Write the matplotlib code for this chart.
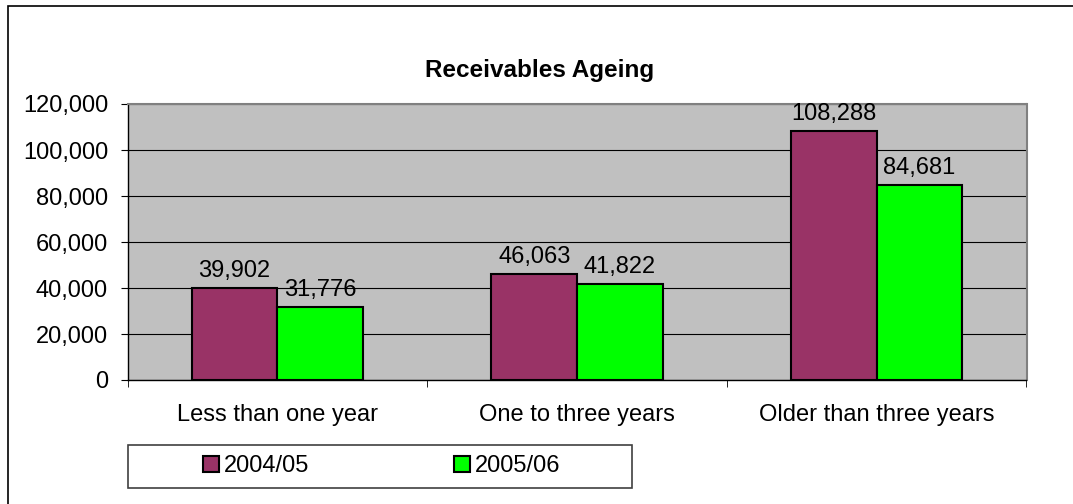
import matplotlib.pyplot as plt
import numpy as np
from matplotlib.patches import Rectangle

categories = ['Less than one year', 'One to three years', 'Older than three years']
series_names = ['2004/05', '2005/06']
values_0405 = [39902, 46063, 108288]
values_0506 = [31776, 41822, 84681]
colors = ['#993366', '#00FF00']

plt.rcParams['font.family'] = ['Liberation Sans', 'DejaVu Sans']
plt.rcParams['font.size'] = 17

fig = plt.figure(figsize=(10.73, 5.04), dpi=100)

# outer chart border (only left/top visible in the original)
fig.patches.append(Rectangle((8 / 1073, -0.1), 1.2, 1.1 - 6 / 504,
                             transform=fig.transFigure, fill=False,
                             edgecolor='black', linewidth=1.2))

ax = fig.add_axes([127.5 / 1073, 124 / 504, 899 / 1073, 276 / 504])
ax.set_facecolor('#C0C0C0')

x = np.arange(len(categories))
w = 1 / 3.5
b1 = ax.bar(x - w / 2, values_0405, w, color=colors[0], edgecolor='black',
            linewidth=1.5, label=series_names[0], zorder=3)
b2 = ax.bar(x + w / 2, values_0506, w, color=colors[1], edgecolor='black',
            linewidth=1.5, label=series_names[1], zorder=3)
ax.bar_label(b1, labels=[f'{v:,}' for v in values_0405], padding=4.5, fontsize=17)
ax.bar_label(b2, labels=[f'{v:,}' for v in values_0506], padding=4.5, fontsize=17)

ax.set_xlim(-0.5, 2.5)
ax.set_ylim(0, 120000)
ax.set_yticks(np.arange(0, 120001, 20000))
ax.yaxis.set_major_formatter(plt.FuncFormatter(lambda v, p: f'{int(v):,}'))
ax.yaxis.grid(True, color='black', linewidth=0.8, zorder=1)
ax.set_axisbelow(True)

ax.set_xticks(x)
ax.set_xticklabels(categories)
ax.set_xticks([-0.5, 0.5, 1.5, 2.5], minor=True)
ax.tick_params(axis='x', which='major', length=0, pad=17)
ax.tick_params(axis='x', which='minor', length=5, direction='out', color='black')
ax.tick_params(axis='y', length=5, direction='out', pad=9)

for s in ['left', 'bottom']:
    ax.spines[s].set_color('black')
    ax.spines[s].set_linewidth(1.0)
for s in ['top', 'right']:
    ax.spines[s].set_color('#808080')
    ax.spines[s].set_linewidth(1.5)

fig.text(540 / 1073, 1 - 70 / 504, 'Receivables Ageing', ha='center', va='center',
         fontsize=17.5, fontweight='bold')

# legend box
lx0, lx1 = 127.5 / 1073, 632 / 1073
ly0, ly1 = 16 / 504, 59 / 504
fig.patches.append(Rectangle((lx0, ly0), lx1 - lx0, ly1 - ly0,
                             transform=fig.transFigure, fill=False,
                             edgecolor='#404040', linewidth=1.2))
fig.legend(handles=[b1, b2], labels=series_names, loc='center',
           bbox_to_anchor=((lx0 + lx1) / 2 + 2 / 1073, (ly0 + ly1) / 2), ncol=2,
           frameon=False, fontsize=17, handlelength=0.68, handleheight=0.68,
           handletextpad=0.2, columnspacing=6.15, borderpad=0)

fig.savefig('out.png', dpi=100)
